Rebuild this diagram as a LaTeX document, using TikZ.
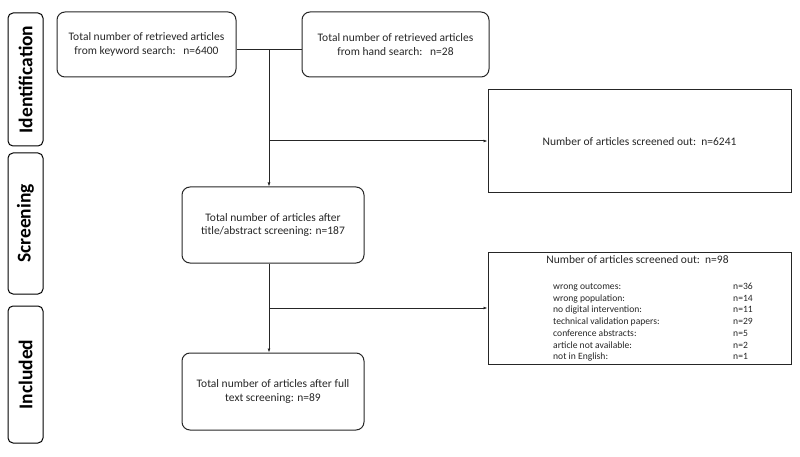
\documentclass[tikz,border=0pt]{standalone}
\usepackage{fontspec}
\setmainfont{Carlito}
\usetikzlibrary{arrows.meta}
\usetikzlibrary{calc}
\tikzset{
    phase/.style={draw, rounded corners=5pt, line width=1pt, rotate=90,
        minimum height=35pt, inner sep=0pt,
        font=\fontsize{19.5}{22}\selectfont\bfseries},
    box text/.style={align=center, text=black!85, inner sep=0pt,
        font=\fontsize{11.5}{13.5}\selectfont},
    roundbox/.style={box text, draw=black!85, line width=1pt, rounded corners=8pt},
    outbox/.style={box text, draw=black!85, line width=1pt},
    item/.style={text=black!85, inner sep=0pt, text height=7pt, text depth=2pt,
        font=\fontsize{9.6}{11}\selectfont},
    link/.style={draw=black!85, line width=1pt},
    arr/.style={link, -{Latex[length=4pt, width=3pt]}},
}
\begin{document}
\begin{tikzpicture}[x=1pt, y=-1pt]

    \useasboundingbox (0,0) rectangle (800,457);

    \foreach \name/\yc/\len in {Identification/79.5/133, Screening/223.5/141, Included/374.5/137}{
        \node[phase, minimum width=\len pt] (\name) at (25.5,\yc) {\name};
    }

    \node[roundbox, minimum width=179pt, minimum height=65pt] (A) at (146.5,44.5)
        {Total number of retrieved articles\\from keyword search:\ \ \ n=6400};
    \node[roundbox, minimum width=187pt, minimum height=65pt] (B) at (395.5,44.5)
        {Total number of retrieved articles\\from hand search:\ \ \ n=28};
    \node[outbox, minimum width=303pt, minimum height=103pt] (C) at (639.5,141.5)
        {Number of articles screened out:\ \ n=6241};
    \node[roundbox, minimum width=182pt, minimum height=76pt] (D) at (273,225)
        {Total number of articles after\\title/abstract screening: n=187};
    \node[outbox, minimum width=303pt, minimum height=112pt] (E) at (639.5,308) {};
    \node[roundbox, minimum width=182pt, minimum height=77pt] (F) at (273,391.5)
        {Total number of articles after full\\text screening: n=89};

    \node[box text] (Etitle) at ($(E.north)+(-2,8)$) {Number of articles screened out:\ \ n=98};
    \foreach \why/\num [count=\i] in {wrong outcomes:/36, wrong population:/14,
            no digital intervention:/11, technical validation papers:/29,
            conference abstracts:/5, article not available:/2, not in English:/1}{
        \node[item, anchor=west] (r\i) at (553,275.3+11.7*\i) {\why};
        \node[item, anchor=west] (n\i) at (733,275.3+11.7*\i) {n=\num};
    }

    \coordinate (j1) at (269,50);
    \coordinate (j2) at (269,141);
    \coordinate (j3) at (269,308);

    \draw[link] (A.east |- j1) -- (B.west |- j1);
    \draw[arr] (j1) -- (j1 |- D.north);
    \draw[arr] (j2) -- (C.west |- j2);
    \draw[arr] (j1 |- D.south) -- (j1 |- F.north);
    \draw[arr] (j3) -- (E.west |- j3);

\end{tikzpicture}
\end{document}
